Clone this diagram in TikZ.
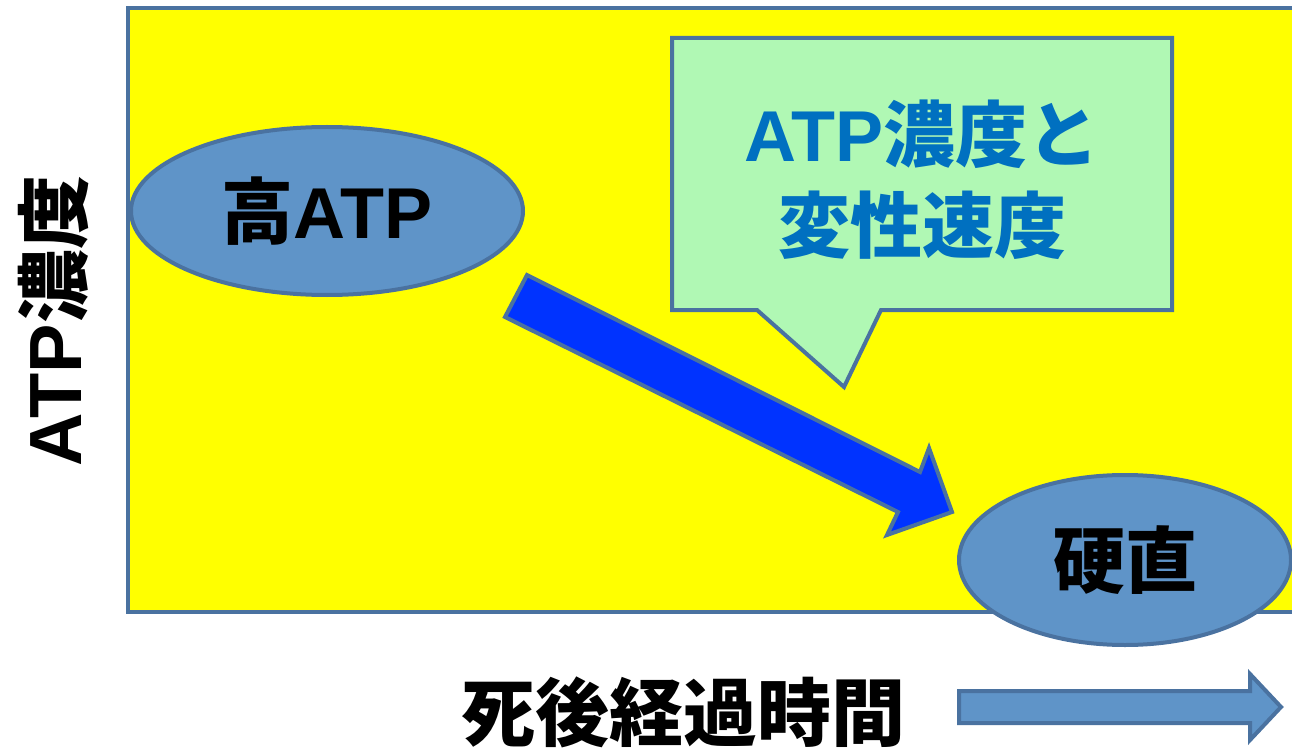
\documentclass[tikz,border=0pt]{standalone}
\usepackage{fontspec}
\setmainfont{Noto Sans CJK JP}
\newfontfamily\lat{Liberation Sans}
\usetikzlibrary{shapes.geometric}
\definecolor{frame}{HTML}{4A72A0}
\definecolor{ellfill}{HTML}{5F94C8}
\definecolor{callfill}{HTML}{B0F8B4}
\definecolor{calltext}{HTML}{0070C0}
\definecolor{bigarrow}{HTML}{0033FF}
\definecolor{plotbg}{HTML}{FFFF00}
\tikzset{
  outline/.style={draw=frame, line width=4pt, line join=miter},
  stateell/.style={outline, ellipse, fill=ellfill, inner sep=0pt,
    font=\fontsize{72}{80}\selectfont\bfseries, text=black},
  axislabel/.style={font=\fontsize{74}{80}\selectfont\bfseries, text=black, inner sep=0pt},
}
\begin{document}
\begin{tikzpicture}[x=1pt, y=-1pt]
\useasboundingbox (0,0) rectangle (1292,751);
\clip (0,0) rectangle (1292,751);
% plot area
\draw[outline, fill=plotbg] (128,8.5) rectangle (1320,612);
% callout
\draw[outline, fill=callfill] (672,38) -- (1172,38) -- (1172,310) -- (881,310)
  -- (844,387) -- (757,310) -- (672,310) -- cycle;
\node[align=center, text=calltext, inner sep=0pt,
  font=\fontsize{72}{91}\selectfont\bfseries] (calltxt) at (922,180) {{\lat ATP}濃度と\\変性速度};
% big arrow
\coordinate (tailA) at (527,275);
\coordinate (tailB) at (505,317);
\draw[outline, fill=bigarrow] (tailA) -- (920,472) -- (929,448) -- (952,512)
  -- (887,535) -- (898,512) -- (tailB) -- cycle;
% state ellipses
\node[stateell, minimum width=392pt, minimum height=168pt] (high) at (327,211) {高{\lat ATP}};
\node[stateell, minimum width=332pt, minimum height=170pt] (rigid) at (1125,560) {硬直};
% axis labels
\node[axislabel, rotate=90] (ylab) at (53,321) {{\lat ATP}濃度};
\node[axislabel] (xlab) at (683,712) {死後経過時間};
% time arrow
\draw[draw=frame, line width=4pt, fill=ellfill, line join=miter]
  (959,691) -- (1250,691) -- (1250,674) -- (1281,707) -- (1250,740)
  -- (1250,723) -- (959,723) -- cycle;
\end{tikzpicture}
\end{document}
